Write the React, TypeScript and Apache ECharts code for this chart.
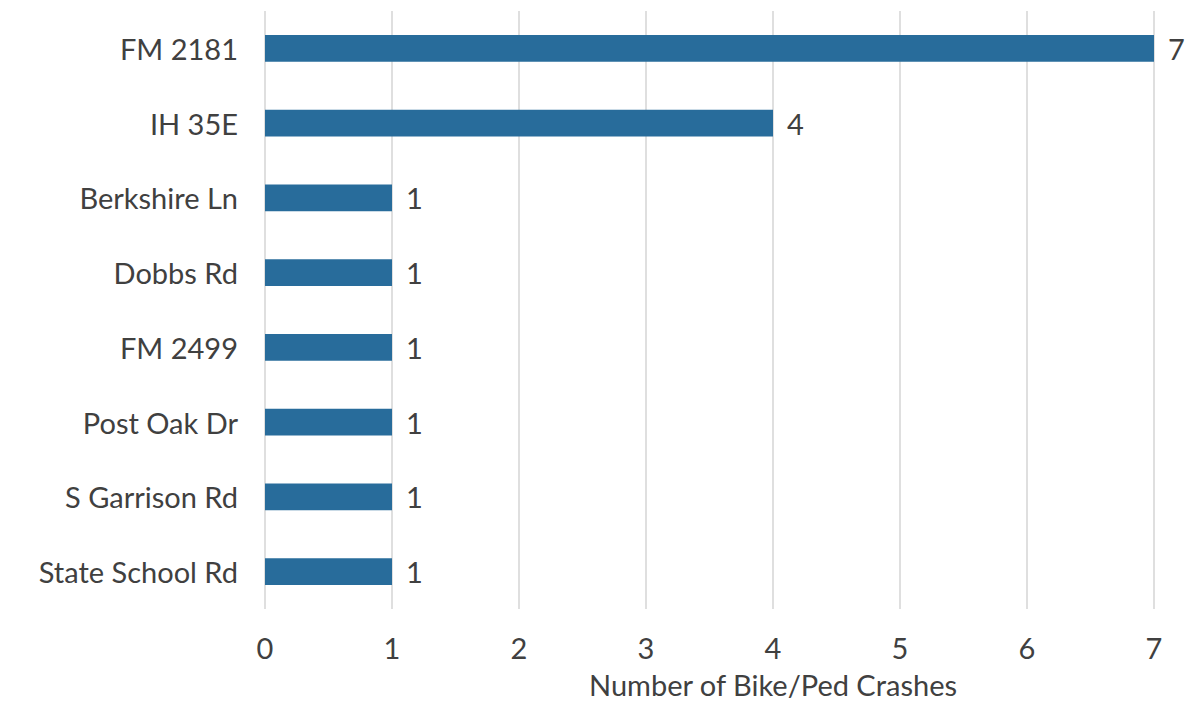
import React, { useEffect, useRef } from "react";
import * as echarts from "echarts";

const categories = [
  "FM 2181",
  "IH 35E",
  "Berkshire Ln",
  "Dobbs Rd",
  "FM 2499",
  "Post Oak Dr",
  "S Garrison Rd",
  "State School Rd",
];
const crashes = [7, 4, 1, 1, 1, 1, 1, 1];
const axisTitle = "Number of Bike/Ped Crashes";

const FONT = "Lato, 'Noto Sans', sans-serif";
const TEXT = "#404040";
const FS = 29;

export default function App() {
  const ref = useRef<HTMLDivElement>(null);
  useEffect(() => {
    document.body.style.margin = "0";
    const chart = echarts.init(ref.current!, undefined, { renderer: "svg" });
    chart.setOption({
      animation: false,
      backgroundColor: "#ffffff",
      grid: { left: 265, right: 45, top: 11, bottom: 93, containLabel: false },
      xAxis: {
        type: "value",
        min: 0,
        max: 7,
        interval: 1,
        axisLine: { show: false },
        axisTick: { show: false },
        axisLabel: { color: TEXT, fontSize: FS, fontFamily: FONT, margin: 24 },
        splitLine: { show: true, lineStyle: { color: "#d4d4d4", width: 1.5 } },
      },
      yAxis: {
        type: "category",
        inverse: true,
        data: categories,
        axisLine: { show: false },
        axisTick: { show: false },
        axisLabel: { color: TEXT, fontSize: FS, fontFamily: FONT, margin: 27 },
        splitLine: { show: false },
      },
      graphic: [
        {
          type: "text",
          x: 773,
          y: 684,
          style: {
            text: axisTitle,
            fill: TEXT,
            fontSize: FS,
            fontFamily: FONT,
            textAlign: "center",
            textVerticalAlign: "middle",
          },
        },
      ],
      series: [
        {
          type: "bar",
          data: crashes,
          barCategoryGap: "64%",
          itemStyle: { color: "#286C9B" },
          label: {
            show: true,
            position: "right",
            distance: 14,
            color: TEXT,
            fontSize: FS,
            fontFamily: FONT,
          },
        },
      ],
    });
    return () => chart.dispose();
  }, []);
  return <div ref={ref} style={{ width: 1199, height: 702 }} />;
}
